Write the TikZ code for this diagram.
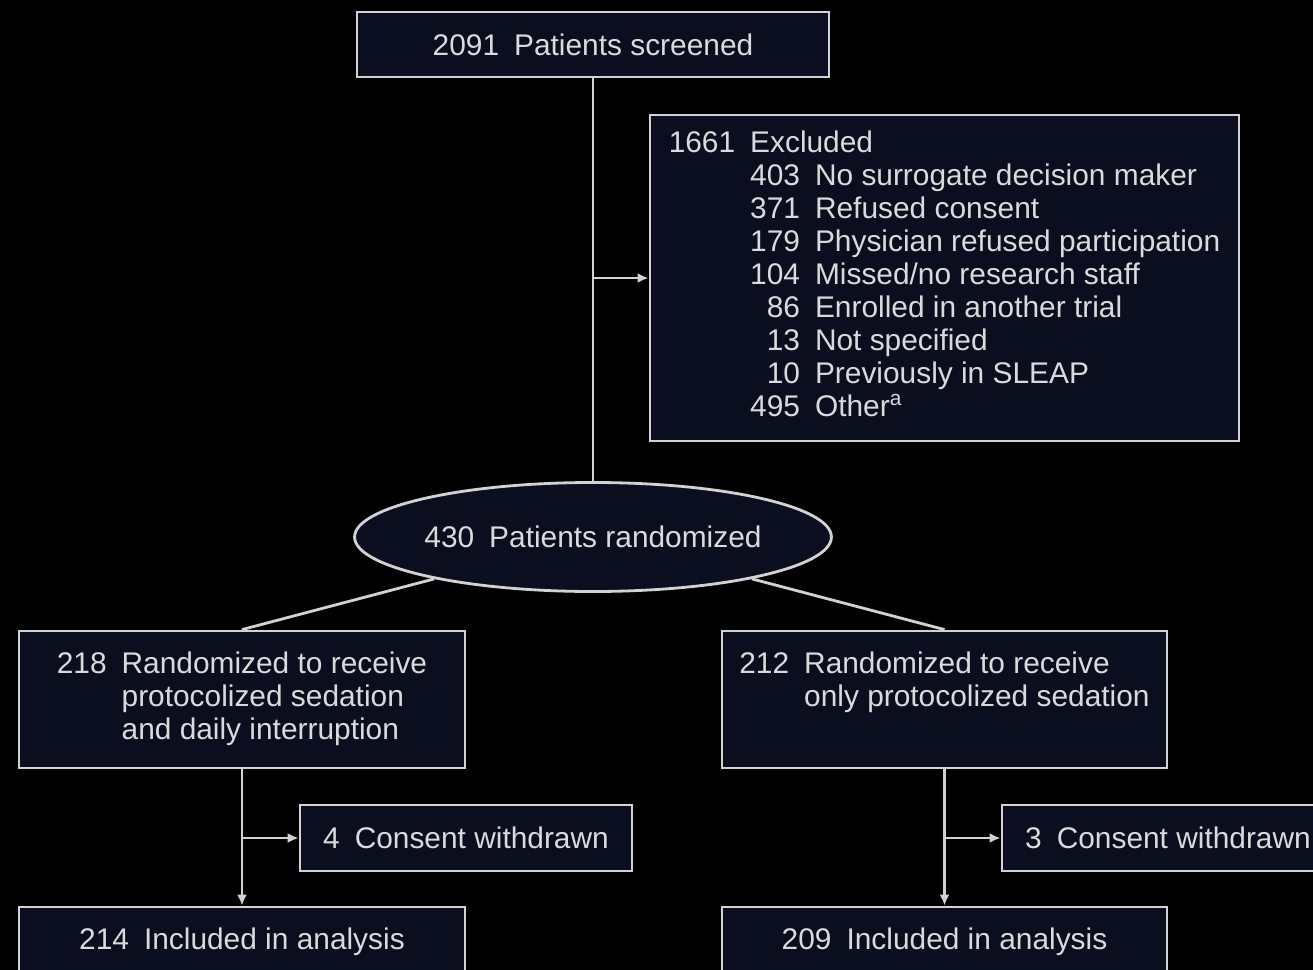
\documentclass[tikz,border=0pt]{standalone}
\usepackage{fontspec}
\setmainfont{Liberation Sans}
\usetikzlibrary{shapes.geometric,arrows.meta}
\definecolor{boxfill}{HTML}{0B0E1F}
\definecolor{boxline}{HTML}{D2D2D2}
\definecolor{boxtext}{HTML}{DADADA}
\newcommand{\gap}{\hspace{0.3cm}}

\begin{document}
\begin{tikzpicture}[
	flowbox/.style={draw=boxline, line width=1.6pt, fill=boxfill, text=boxtext, font=\fontsize{17}{18.8}\selectfont, inner sep=0pt},
	flowline/.style={draw=boxline, line width=1.6pt},
	flowarrow/.style={flowline, -{Latex[length=0.22cm,width=0.2cm]}}
	]

		\useasboundingbox (0,0) rectangle (26.26,-19.4);
		\clip (0,0) rectangle (26.26,-19.4);
		\fill[black] (0,0) rectangle (26.26,-19.4);

		\node[flowbox, minimum width=9.44cm, minimum height=1.3cm] (screened) at (11.86,-0.89) {2091\gap Patients screened};
		\node[flowbox, minimum width=11.78cm, minimum height=6.52cm] (excluded) at (18.89,-5.56) {%
			\begin{tabular}{@{}l@{\gap}r@{\gap}l@{}}
				1661 & \multicolumn{2}{@{}l@{}}{Excluded}\\
				& 403 & No surrogate decision maker\\
				& 371 & Refused consent\\
				& 179 & Physician refused participation\\
				& 104 & Missed/no research staff\\
				& 86 & Enrolled in another trial\\
				& 13 & Not specified\\
				& 10 & Previously in SLEAP\\
				& 495 & Other\textsuperscript{a}
			\end{tabular}};
		\node[flowbox, ellipse, minimum width=9.44cm, minimum height=2.18cm] (randomized) at (11.86,-10.74) {430\gap Patients randomized};

		\node[flowbox, minimum width=8.92cm, minimum height=2.74cm] (armA) at (4.84,-13.99) {%
			\begin{tabular}{@{}r@{\gap}l@{}}
				218 & Randomized to receive\\
				& protocolized sedation\\
				& and daily interruption
			\end{tabular}};
		\node[flowbox, minimum width=8.9cm, minimum height=2.74cm] (armB) at (18.89,-13.99) {%
			\begin{tabular}{@{}r@{\gap}l@{}}
				212 & Randomized to receive\\
				& only protocolized sedation\\
				& \strut
			\end{tabular}};

		\node[flowbox, minimum width=6.64cm, minimum height=1.32cm] (withdrawnA) at (9.32,-16.76) {4\gap Consent withdrawn};
		\node[flowbox, minimum width=6.64cm, minimum height=1.32cm] (withdrawnB) at (23.36,-16.76) {3\gap Consent withdrawn};

		\node[flowbox, minimum width=8.92cm, minimum height=1.4cm] (analysisA) at (4.84,-18.84) {214\gap Included in analysis};
		\node[flowbox, minimum width=8.9cm, minimum height=1.4cm] (analysisB) at (18.89,-18.84) {209\gap Included in analysis};

		\draw[flowline] (screened) -- (randomized);
		\coordinate (j0) at (screened.south |- excluded.west);
		\draw[flowarrow] (j0) -- (excluded.west);

		\draw[flowline] (randomized) -- (armA.north);
		\draw[flowline] (randomized) -- (armB.north);

		\draw[flowarrow] (armA) -- (analysisA);
		\coordinate (jA) at (armA.south |- withdrawnA.west);
		\draw[flowarrow] (jA) -- (withdrawnA.west);

		\draw[flowarrow] (armB) -- (analysisB);
		\coordinate (jB) at (armB.south |- withdrawnB.west);
		\draw[flowarrow] (jB) -- (withdrawnB.west);

	\end{tikzpicture}
\end{document}
